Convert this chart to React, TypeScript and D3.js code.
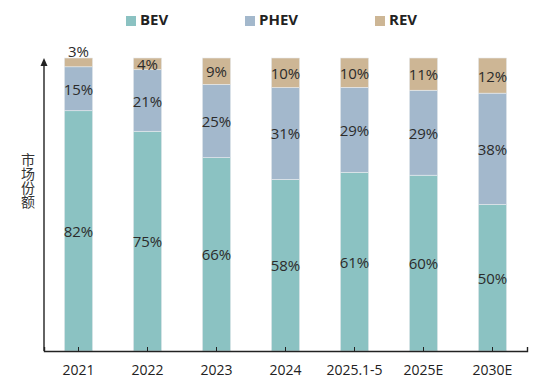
import React, { useEffect, useRef } from 'react';
import * as d3 from 'd3';

const categories = ['2021', '2022', '2023', '2024', '2025.1-5', '2025E', '2030E'];
const bev = [82, 75, 66, 58, 61, 60, 50];
const phev = [15, 21, 25, 31, 29, 29, 38];
const rev = [3, 4, 9, 10, 10, 11, 12];
const seriesNames = ['BEV', 'PHEV', 'REV'];
const colors = ['#8bc2c2', '#a3b8cc', '#cdb695'];

const App = () => {
  const svgRef = useRef<SVGSVGElement>(null);

  useEffect(() => {
    const svg = d3.select(svgRef.current);
    svg.selectAll('*').remove();

    const width = 552;
    const height = 384;
    const margin = { top: 58, right: 25, bottom: 33, left: 44 };
    const font = '"Open Sans", "Noto Sans", sans-serif';

    const rows = categories.map((c, i) => ({ cat: c, BEV: bev[i], PHEV: phev[i], REV: rev[i] }));
    // 2024 adds up to 99, so normalise every column to 100%
    const stacked = d3.stack<any>().keys(seriesNames).offset(d3.stackOffsetExpand)(rows);

    const x = d3
      .scaleBand()
      .domain(categories)
      .range([margin.left, width - margin.right])
      .paddingInner(0.59)
      .paddingOuter(0.295);

    const y = d3
      .scaleLinear()
      .domain([0, 1])
      .range([height - margin.bottom, margin.top]);

    // bars
    stacked.forEach((layer, si) => {
      svg
        .append('g')
        .selectAll('rect')
        .data(layer)
        .join('rect')
        .attr('x', (d: any) => x(d.data.cat)!)
        .attr('y', (d) => y(d[1]))
        .attr('height', (d) => y(d[0]) - y(d[1]))
        .attr('width', x.bandwidth())
        .attr('fill', colors[si])
        .attr('stroke', '#e8ecef')
        .attr('stroke-width', 0.6);
    });

    // value labels
    stacked.forEach((layer, si) => {
      const key = seriesNames[si];
      svg
        .append('g')
        .selectAll('text')
        .data(layer)
        .join('text')
        .attr('x', (d: any) => x(d.data.cat)! + x.bandwidth() / 2)
        .attr('y', (d: any) => {
          const v = d.data[key];
          if (v < 4) return y(d[1]) - 5;
          return (y(d[0]) + y(d[1])) / 2 + 2;
        })
        .attr('text-anchor', 'middle')
        .attr('dominant-baseline', 'middle')
        .attr('font-family', font)
        .attr('font-size', 15)
        .attr('fill', '#2b2b2b')
        .text((d: any) => `${d.data[key]}%`);
    });

    // x axis
    const xAxis = svg
      .append('g')
      .attr('transform', `translate(0,${height - margin.bottom})`)
      .call(
        d3
          .axisBottom(x)
          .tickSizeInner(-4)
          .tickSizeOuter(-4)
          .tickPadding(14)
      );
    xAxis.select('.domain').attr('stroke', '#222').attr('stroke-width', 1.4);
    xAxis.selectAll('.tick line').attr('stroke', '#222');
    xAxis
      .selectAll('.tick text')
      .attr('font-family', font)
      .attr('font-size', 14)
      .attr('fill', '#222');

    // y axis with arrow head
    svg
      .append('line')
      .attr('x1', margin.left)
      .attr('x2', margin.left)
      .attr('y1', height - margin.bottom)
      .attr('y2', margin.top + 4)
      .attr('stroke', '#222')
      .attr('stroke-width', 1.4);
    svg
      .append('path')
      .attr('d', `M${margin.left - 3.5},${margin.top + 8} L${margin.left},${margin.top} L${margin.left + 3.5},${margin.top + 8} Z`)
      .attr('fill', '#222');

    // y title, written vertically
    svg
      .append('text')
      .attr('x', 28)
      .attr('y', 153)
      .attr('font-family', '"Noto Sans CJK SC", sans-serif')
      .attr('font-size', 14)
      .attr('fill', '#333')
      .style('writing-mode', 'vertical-rl')
      .style('text-orientation', 'upright')
      .text('市场份额');

    // legend
    const legendX = [126, 245, 375];
    const legend = svg
      .append('g')
      .selectAll('g')
      .data(seriesNames)
      .join('g')
      .attr('transform', (d, i) => `translate(${legendX[i]},21)`);
    legend
      .append('rect')
      .attr('x', 0)
      .attr('y', -5)
      .attr('width', 10)
      .attr('height', 10)
      .attr('fill', (d, i) => colors[i]);
    legend
      .append('text')
      .attr('x', 14)
      .attr('y', 0)
      .attr('dominant-baseline', 'middle')
      .attr('font-family', font)
      .attr('font-weight', 'bold')
      .attr('font-size', 15)
      .attr('fill', '#222')
      .text((d) => d);
  }, []);

  return (
    <svg
      ref={svgRef}
      width={552}
      height={384}
      style={{ position: 'absolute', left: 0, top: 0, background: '#fff' }}
    />
  );
};

export default App;
